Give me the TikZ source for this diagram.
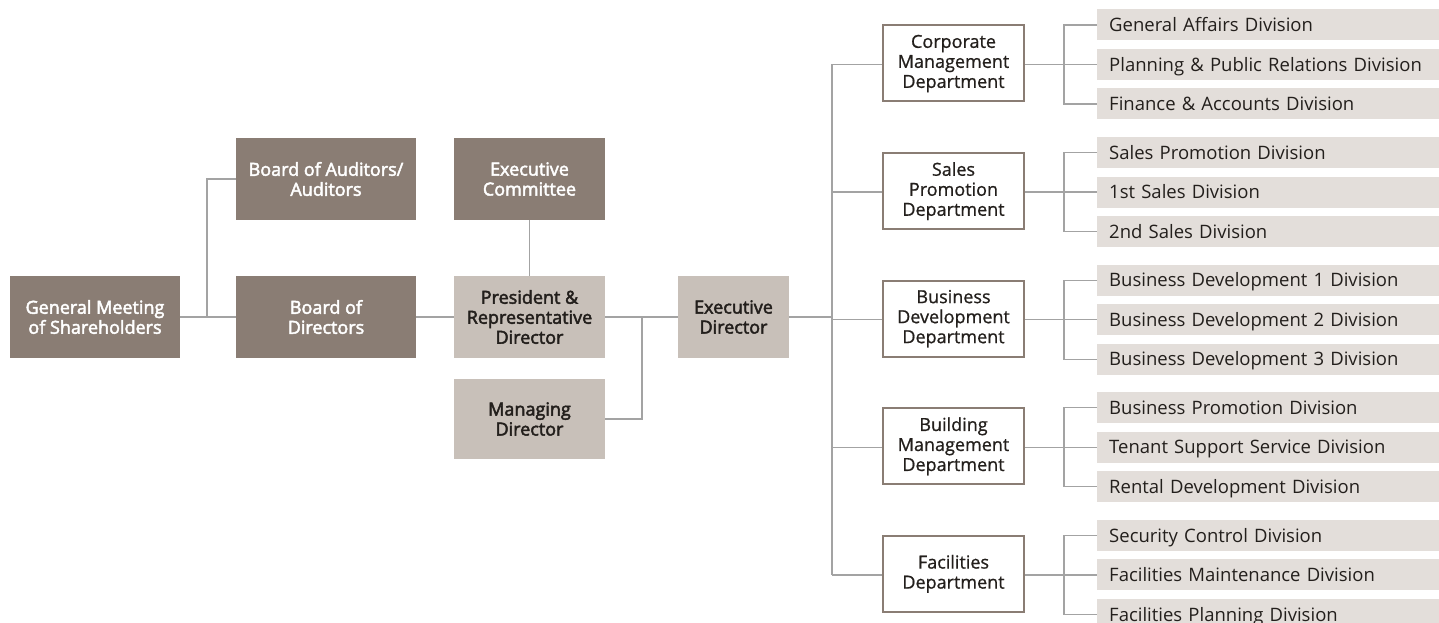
\documentclass[tikz,border=0pt]{standalone}
\usepackage{fontspec}
\setmainfont{Open Sans}
\newfontfamily\semibold{Open Sans}[FakeBold=2.6]
\newfontfamily\medium{Open Sans}[FakeBold=0.8]
\usetikzlibrary{positioning}
\definecolor{boxdark}{HTML}{8A7D74}
\definecolor{boxlight}{HTML}{C8C0B9}
\definecolor{divfill}{HTML}{E3DEDA}
\definecolor{textdark}{HTML}{231F1C}
\definecolor{linegray}{HTML}{A3A3A3}

\begin{document}
\begin{tikzpicture}[x=1pt,y=-1pt]
\tikzset{every node/.style={inner sep=0pt, align=center}}
\tikzset{darkbox/.style={fill=boxdark, text=white, minimum height=82pt, font=\fontsize{18}{20}\semibold}}
\tikzset{lightbox/.style={fill=boxlight, text=textdark, minimum height=82pt, font=\fontsize{18}{20}\semibold}}
\tikzset{deptbox/.style={draw=boxdark, line width=2pt, fill=white, text=textdark, minimum width=141pt, minimum height=76pt, font=\fontsize{18}{20}\medium}}
\tikzset{divbox/.style={fill=divfill, text=textdark, anchor=west, minimum height=31pt, text width=318pt, text height=14pt, text depth=0.8pt, inner xsep=12pt, align=left, font=\fontsize{18.5}{20}\selectfont}}
\tikzset{link/.style={draw=linegray, line width=1.3pt}}

\useasboundingbox (0,0) rectangle (1439,623);

% top levels
\node[darkbox, minimum width=170pt] (gms) at (95,317) {General Meeting\\of Shareholders};
\node[darkbox, minimum width=180pt] (aud) at (326,179) {Board of Auditors/\\Auditors};
\node[darkbox, minimum width=180pt] (bod) at (326,317) {Board of\\Directors};
\node[darkbox, minimum width=151pt] (exc) at (529.5,179) {Executive\\Committee};
\node[lightbox, minimum width=151pt] (pres) at (529.5,317) {President \&\\Representative\\Director};
\node[lightbox, minimum width=151pt, minimum height=80pt] (mng) at (529.5,419) {Managing\\Director};
\node[lightbox, minimum width=111pt] (exd) at (733.5,317) {Executive\\Director};

\coordinate (gj) at (207,317);
\coordinate (mj) at (642,317);
\coordinate (trunk) at (832,317);

\draw[link] (gms) -- (bod);
\draw[link] (aud.west) -| (gj);
\draw[link] (bod) -- (pres);
\draw[link] (exc) -- (pres);
\draw[link] (pres) -- (exd);
\draw[link] (mng.east) -| (mj);
\draw[link] (exd) -- (trunk);

% departments and divisions
\foreach \name/\dept/\a/\b/\c [count=\i from 0] in {
  corp/{Corporate\\Management\\Department}/{General Affairs Division}/{Planning \& Public Relations Division}/{Finance \& Accounts Division},
  sales/{Sales\\Promotion\\Department}/{Sales Promotion Division}/{1st Sales Division}/{2nd Sales Division},
  busdev/{Business\\Development\\Department}/{Business Development 1 Division}/{Business Development 2 Division}/{Business Development 3 Division},
  bldg/{Building\\Management\\Department}/{Business Promotion Division}/{Tenant Support Service Division}/{Rental Development Division},
  fac/{Facilities\\Department}/{Security Control Division}/{Facilities Maintenance Division}/{Facilities Planning Division}}
{
  \node[deptbox] (\name) at (953.5,63.5+127.6*\i) {\dept};
  \node[divbox] (\name-1) at (1097,25+127.6*\i) {\a};
  \node[divbox] (\name-2) at (1097,64.5+127.6*\i) {\b};
  \node[divbox] (\name-3) at (1097,104+127.6*\i) {\c};
  \coordinate (\name-j) at (1064,64.5+127.6*\i);
  \draw[link] (trunk |- \name-j) -- (\name-j -| \name.west);
  \draw[link] (\name.east |- \name-j) -- (\name-2.west);
  \draw[link] (\name-1.west) -| (\name-j) |- (\name-3.west);
}
\draw[link] (trunk |- corp-j) -- (trunk |- fac-j);

\end{tikzpicture}
\end{document}
